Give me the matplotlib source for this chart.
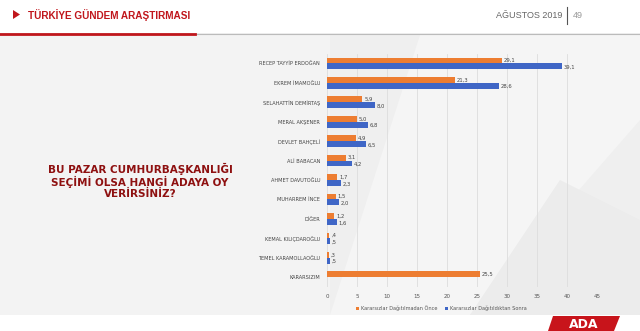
import matplotlib.pyplot as plt
import matplotlib.patches as mpatches
import numpy as np

candidates = ["RECEP TAYYİP ERDOĞAN", "EKREM İMAMOĞLU", "SELAHATTİN DEMİRTAŞ",
              "MERAL AKŞENER", "DEVLET BAHÇELİ", "ALİ BABACAN", "AHMET DAVUTOĞLU",
              "MUHARREM İNCE", "DİĞER", "KEMAL KILIÇDAROĞLU", "TEMEL KARAMOLLAOĞLU",
              "KARARSIZIM"]
before = [29.1, 21.3, 5.9, 5.0, 4.9, 3.1, 1.7, 1.5, 1.2, 0.4, 0.3, 25.5]
after = [39.1, 28.6, 8.0, 6.8, 6.5, 4.2, 2.3, 2.0, 1.6, 0.5, 0.5, None]
before_label = "Kararsızlar Dağıtılmadan Önce"
after_label = "Kararsızlar Dağıtıldıktan Sonra"
xticks = [0, 5, 10, 15, 20, 25, 30, 35, 40, 45]

ORANGE = "#ED7D31"
BLUE = "#3F66C6"
DARKRED = "#8E1010"

def fmt(v):
    s = f"{v:.1f}".replace(".", ",")
    return s[1:] if s.startswith("0") else s

fig = plt.figure(figsize=(6.4, 3.31), dpi=100)
fig.patch.set_facecolor("#efefef")

# background geometry
bg = fig.add_axes([0, 0, 1, 1])
bg.set_xlim(0, 640)
bg.set_ylim(331, 0)
bg.axis("off")
bg.add_patch(mpatches.Polygon([[0, 35], [330, 35], [330, 315], [0, 315]], color="#f3f3f3", lw=0))
bg.add_patch(mpatches.Polygon([[420, 35], [640, 35], [640, 120], [470, 315], [330, 315]], color="#f5f5f5", lw=0))
bg.add_patch(mpatches.Polygon([[470, 315], [560, 180], [640, 220], [640, 315]], color="#ececec", lw=0))
bg.add_patch(mpatches.Rectangle((0, 315), 640, 16, color="white", lw=0))
bg.add_patch(mpatches.Rectangle((0, 0), 640, 33, color="white", lw=0))
# header
bg.plot([0, 640], [33.5, 33.5], color="#bbbbbb", lw=0.8)
bg.plot([0, 195], [33.5, 33.5], color="#c0161c", lw=2)
bg.add_patch(mpatches.Polygon([[13, 10], [13, 19], [20, 14.5]], color="#c0161c", lw=0))
bg.text(28, 15, "TÜRKİYE GÜNDEM ARAŞTIRMASI", color="#c0161c", fontsize=7.2,
        fontweight="bold", family="Liberation Sans", va="center", ha="left")
bg.text(562, 15, "AĞUSTOS 2019", color="#666666", fontsize=6.5, family="Liberation Sans",
        va="center", ha="right")
bg.plot([567, 567], [7, 24], color="#555555", lw=0.8)
bg.text(573, 15, "49", color="#999999", fontsize=6.5, family="Liberation Sans", va="center")
# question
bg.text(140, 181, "BU PAZAR CUMHURBAŞKANLIĞI\nSEÇİMİ OLSA HANGİ ADAYA OY\nVERİRSİNİZ?",
        color=DARKRED, fontsize=7.5, fontweight="heavy", family="DejaVu Sans",
        ha="center", va="center", linespacing=1.15)
# logo
bg.add_patch(mpatches.Polygon([[548, 331], [553, 316], [620, 316], [614, 331]], color="#c8141b", lw=0))
bg.text(584, 324, "ADA", color="white", fontsize=9, fontweight="bold",
        family="DejaVu Sans", ha="center", va="center")

ax = fig.add_axes([0.511, 0.133, 0.422, 0.705])
ax.patch.set_alpha(0)
y = np.arange(len(candidates))
h = 0.3
av = [v if v is not None else 0 for v in after]
ax.barh(y - h / 2, before, height=h, color=ORANGE, label=before_label)
ax.barh(y + h / 2, av, height=h, color=BLUE, label=after_label)
for i in range(len(candidates)):
    ax.text(before[i] + 0.3, y[i] - h / 2, fmt(before[i]), fontsize=3.8, color="#444444",
            va="center", ha="left")
    if after[i] is not None:
        ax.text(after[i] + 0.3, y[i] + h / 2 + 0.05, fmt(after[i]), fontsize=3.8,
                color="#444444", va="center", ha="left")
ax.set_ylim(len(candidates) - 0.5, -0.5)
ax.set_xlim(0, 45)
ax.set_xticks(xticks)
ax.set_xticklabels([str(t) for t in xticks], fontsize=4, color="#555555")
ax.set_yticks(y)
ax.set_yticklabels(candidates, fontsize=3.6, color="#444444")
ax.tick_params(length=0, pad=5)
ax.grid(axis="x", color="#dddddd", lw=0.6)
ax.set_axisbelow(True)
for s in ax.spines.values():
    s.set_visible(False)

fig.legend(loc="center", bbox_to_anchor=(0.69, 0.068), ncol=2, fontsize=3.6,
           frameon=False, handlelength=0.6, handleheight=0.6, columnspacing=1.5,
           handletextpad=0.4, labelcolor="#555555")

fig.savefig("out.png", dpi=100, facecolor=fig.get_facecolor())
